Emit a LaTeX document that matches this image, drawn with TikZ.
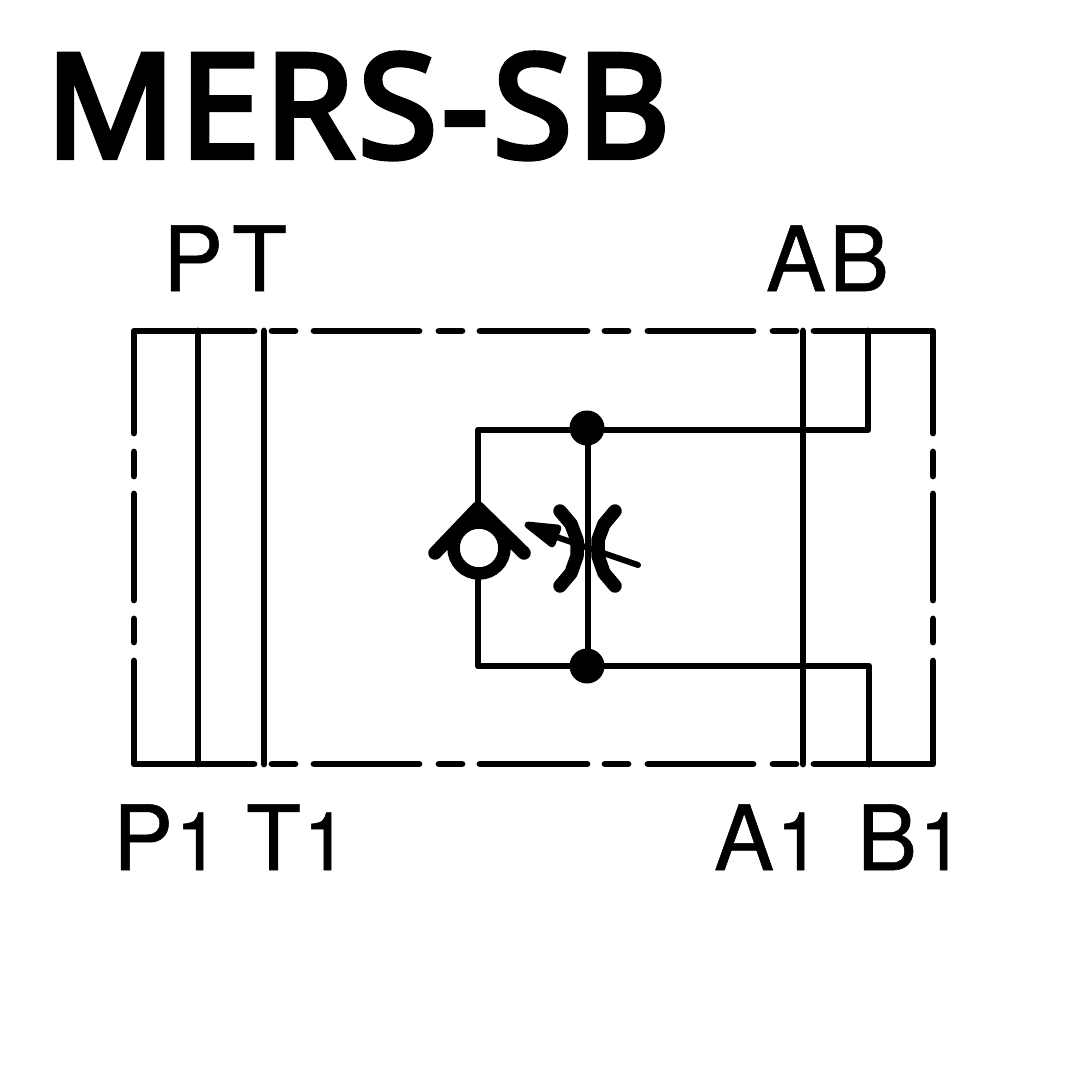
\documentclass[tikz,border=0pt]{standalone}
\usepackage{fontspec}
\setmainfont[FakeBold=0.6]{TeX Gyre Heros}
\newfontfamily\titlefont[FakeBold=4.5,LetterSpace=3.6]{Open Sans}
\newcommand{\lab}{\fontsize{90}{90}\selectfont}
\newcommand{\sm}{\fontsize{81}{81}\selectfont}
\tikzset{
 ln/.style={line width=6.8pt,line cap=round,line join=round,black},
 thick5/.style={line width=13.5pt,line cap=round,line join=round,black},
 lbl/.style={inner sep=0pt,outer sep=0pt,anchor=base west,text=black},
}
\begin{document}
\begin{tikzpicture}[x=1pt,y=-1pt]
\useasboundingbox[fill=white] (0,0) rectangle (1080,1080);
\node[lbl,font=\titlefont\fontsize{143}{143}\selectfont] (title) at (46,157) {MERS-SB};
\node[lbl,font=\lab] (pt) at (163,291) {P\kern9pt T};
\node[lbl,font=\lab] (ab) at (766,291) {A\kern3pt B};
\node[lbl,font=\lab] (p1) at (113,870) {P{\sm\kern2pt 1}};
\node[lbl,font=\lab] (t1) at (246,870) {T{\sm\kern2pt 1}};
\node[lbl,font=\lab] (a1) at (714,870) {A{\sm\kern2pt 1}};
\node[lbl,font=\lab] (b1) at (857,870) {B{\sm\kern2pt 1}};
% outline
\draw[ln] (134,433) -- (134,331) -- (254,331);
\foreach \a/\b in {272/295,314/419,439/462,480/587,605/628,648/753,773/796} {
  \draw[ln] (\a,331) -- (\b,331);
  \draw[ln] (\a,764) -- (\b,764);
}
\draw[ln] (814,331) -- (933,331) -- (933,433);
\draw[ln] (134,661) -- (134,764) -- (254,764);
\draw[ln] (814,764) -- (933,764) -- (933,661);
\foreach \a/\b in {452/476,494/600,619/642} {
  \draw[ln] (134,\a) -- (134,\b);
  \draw[ln] (933,\a) -- (933,\b);
}
% verticals
\draw[ln] (198,331) -- (198,764);
\draw[ln] (264,331) -- (264,764);
\draw[ln] (803,331) -- (803,764);
% circuit
\draw[ln] (478,505) -- (478,430) -- (868,430) -- (868,331);
\draw[ln] (478,580) -- (478,666) -- (869,666) -- (869,764);
\draw[ln] (588,430) -- (588,666);
\fill (587,428) circle (17.5);
\fill (587,666) circle (17.5);
% check valve
\draw[line width=12.5pt,black] (479,548) circle (25.5);
\fill (478,503) -- (455,527) -- (501,527) -- cycle;
\draw[thick5] (435,553) -- (478,508) -- (524,553);
% throttle
\draw[thick5] (560,511) -- (571,524) -- (577,540) -- (577,556) -- (571,573) -- (560,586);
\draw[thick5] (615,511) -- (604,524) -- (598,540) -- (598,556) -- (604,573) -- (615,586);
% adjust arrow
\draw[ln,line width=6pt] (638,565) -- (545,533);
\draw[ln,fill=black] (528,525) -- (558,528) -- (552,544) -- cycle;
\end{tikzpicture}
\end{document}
